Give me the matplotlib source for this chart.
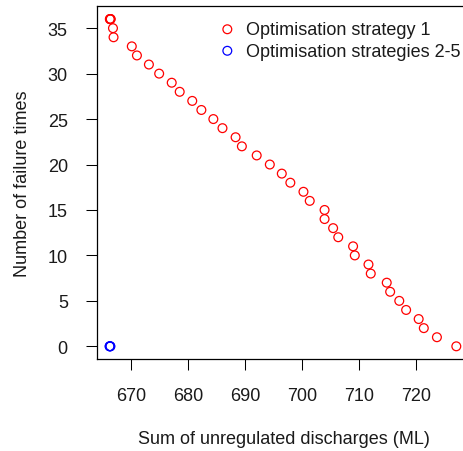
import matplotlib
matplotlib.use("Agg")
import matplotlib.pyplot as plt

plt.rcParams['font.family'] = ['Liberation Sans', 'DejaVu Sans']

# Strategy 1 (red): sum of unregulated discharges vs number of failure times
s1_discharge = [666.25, 666.3, 666.35, 666.4, 666.8, 666.9, 670.1, 671.0, 673.1, 674.9,
                677.1, 678.5, 680.7, 682.3, 684.4, 686.0, 688.3, 689.4, 692.0,
                694.3, 696.4, 697.9, 700.2, 701.3, 703.9, 703.9, 705.4, 706.3,
                708.9, 709.2, 711.6, 712.0, 714.8, 715.4, 717.0, 718.2, 720.4,
                721.3, 723.6, 727.0]
s1_failures = [36, 36, 36, 36, 35, 34, 33, 32, 31, 30,
               29, 28, 27, 26, 25, 24, 23, 22, 21,
               20, 19, 18, 17, 16, 15, 14, 13, 12,
               11, 10, 9, 8, 7, 6, 5, 4, 3,
               2, 1, 0]

# Strategies 2-5 (blue)
s25_discharge = [666.2, 666.25, 666.3, 666.35]
s25_failures = [0, 0, 0, 0]

x_ticks = [670, 680, 690, 700, 710, 720]
y_ticks = [0, 5, 10, 15, 20, 25, 30, 35]
legend_labels = ["Optimisation strategy 1", "Optimisation strategies 2-5"]

W, H = 463, 452
FS = 13
fig = plt.figure(figsize=(W / 100, H / 100), dpi=100)
ax = fig.add_axes([97 / W, 1 - 360.4 / H, 373 / W, 353.4 / H])

ax.scatter(s1_discharge, s1_failures, s=40, facecolors='none', edgecolors='#FF0000',
           linewidths=0.9, label=legend_labels[0], zorder=3)
ax.scatter(s25_discharge, s25_failures, s=40, facecolors='none', edgecolors='#0000FF',
           linewidths=0.9, label=legend_labels[1], zorder=3)

ax.set_xlim(664.0, 729.4)
ax.set_ylim(-1.44, 37.44)
ax.set_xticks(x_ticks)
ax.set_yticks(y_ticks)
ax.tick_params(axis='both', direction='out', length=8, width=0.75, labelsize=FS,
               color='black', labelcolor='#1a1a1a')
ax.tick_params(axis='x', pad=12)
ax.tick_params(axis='y', pad=13)
for sp in ax.spines.values():
    sp.set_linewidth(0.9)
    sp.set_color('black')

ax.set_xlabel("Sum of unregulated discharges (ML)", fontsize=FS, color='#1a1a1a')
ax.set_ylabel("Number of failure times", fontsize=FS, color='#1a1a1a')
ax.xaxis.set_label_coords(0.5, (360.4 - 431) / 353.4)
ax.yaxis.set_label_coords((31 - 97) / 373, 0.5)

leg = ax.legend(loc='upper left', bbox_to_anchor=(218.3 / W, 1 - 22 / H),
                bbox_transform=fig.transFigure, frameon=False, fontsize=FS,
                handlelength=1.0, handletextpad=0.54, labelspacing=0.25,
                borderpad=0, borderaxespad=0, scatterpoints=1)
for t in leg.get_texts():
    t.set_color('#1a1a1a')

fig.savefig("out.png", dpi=100)
